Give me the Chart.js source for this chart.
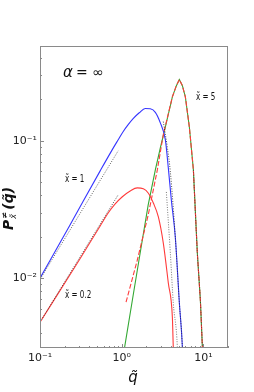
<!DOCTYPE html>
<html>
<head>
<meta charset="utf-8">
<script src="https://cdn.jsdelivr.net/npm/chart.js@4/dist/chart.umd.min.js"></script>
<style>
  body { margin: 0; background: #fff; }
  canvas { display: block; }
</style>
</head>
<body>
<canvas id="chart" width="254" height="392"></canvas>
<script>
// x̃ = 1 (blue)
const qBlue = [0.1, 0.233, 0.545, 0.764, 0.906, 1.04, 1.20, 1.38, 1.64, 1.94, 2.24, 2.58, 2.97, 3.42, 3.72, 4.05, 4.53, 5.08, 5.53, 5.65];
const pBlue = [0.0100, 0.0244, 0.0604, 0.0859, 0.1017, 0.1164, 0.131, 0.145, 0.160, 0.172, 0.171, 0.161, 0.135, 0.102, 0.0635, 0.0371, 0.0199, 0.00658, 0.00313, 0.0021];

// x̃ = 0.2 (red)
const qRed = [0.1, 0.301, 0.545, 0.683, 0.832, 1.01, 1.27, 1.55, 1.84, 2.11, 2.44, 2.81, 3.23, 3.72, 4.17, 4.28, 4.39];
const pRed = [0.00478, 0.0135, 0.0240, 0.0298, 0.0347, 0.0390, 0.0431, 0.0454, 0.0447, 0.0417, 0.0352, 0.0279, 0.0180, 0.00921, 0.00519, 0.00313, 0.0023];

// x̃ = 5 (green)
const qGreen = [1.07, 1.35, 1.69, 2.11, 2.58, 2.97, 3.42, 4.17, 4.67, 5.08, 5.53, 6.01, 6.73, 7.54, 8.43, 9.18, 9.72, 9.96];
const pGreen = [0.00298, 0.0069, 0.0155, 0.0341, 0.0614, 0.0889, 0.126, 0.209, 0.252, 0.279, 0.252, 0.209, 0.126, 0.0614, 0.0152, 0.0069, 0.00313, 0.0021];

// x̃ = 5 (red dashed)
const qRed5 = [1.13, 1.55, 2.11, 2.73, 3.23, 4.17, 4.67, 5.08, 5.53, 6.01, 6.73, 7.54, 8.43, 9.18, 9.72, 9.96];
const pRed5 = [0.00668, 0.0135, 0.0288, 0.0614, 0.111, 0.209, 0.252, 0.279, 0.252, 0.209, 0.126, 0.0614, 0.0152, 0.0069, 0.00313, 0.0021];

// asymptotes (dotted)
const qAsym1 = [0.1, 0.905];
const pAsym1 = [0.0098, 0.0845];
const qAsym02 = [0.1, 0.905];
const pAsym02 = [0.00478, 0.0404];
const qTailA = [3.23, 3.61, 3.94, 4.53, 5.08, 5.53, 5.65];
const pTailA = [0.138, 0.0904, 0.0594, 0.0199, 0.00658, 0.00313, 0.0021];
const qTailB = [3.52, 3.94, 4.28, 4.80, 4.90];
const pTailB = [0.0424, 0.0152, 0.00658, 0.00313, 0.0021];
const qTail5 = [7.54, 8.43, 9.18, 9.72, 9.96];
const pTail5 = [0.0614, 0.0152, 0.0069, 0.00313, 0.0021];

const xTickValues = [0.1, 1, 10];
const xTickLabels = ["10⁻¹", "10⁰", "10¹"];
const yTickValues = [0.01, 0.1];
const yTickLabels = ["10⁻²", "10⁻¹"];

const pts = (qs, ps) => qs.map((q, i) => ({ x: q, y: ps[i] }));

const line = (qs, ps, color, extra) => Object.assign({
    data: pts(qs, ps),
    borderColor: color,
    borderWidth: 1.1,
    pointRadius: 0,
    showLine: true,
    cubicInterpolationMode: "monotone",
    fill: false,
}, extra || {});

const dotted = { borderDash: [1, 1.5], borderWidth: 1 };
const sharp = { cubicInterpolationMode: "default", tension: 0 };

const minorTicks = (min, max) => {
    const out = [];
    for (let e = -3; e <= 2; e++) {
        for (let m = 1; m <= 9; m++) {
            const v = m * Math.pow(10, e);
            if (v >= min && v <= max) out.push({ v: v, major: m === 1 });
        }
    }
    return out;
};

const framePlugin = {
    id: "frame",
    afterDraw(chart) {
        const ctx = chart.ctx;
        const a = chart.chartArea;
        const xs = chart.scales.x, ys = chart.scales.y;
        ctx.save();
        ctx.strokeStyle = "#8a8a8a";
        ctx.lineWidth = 1;
        ctx.strokeRect(a.left + 0.5, a.top + 0.5, a.right - a.left - 1, a.bottom - a.top - 1);
        ctx.beginPath();
        minorTicks(xs.min, xs.max).forEach(t => {
            const px = Math.round(xs.getPixelForValue(t.v)) + 0.5;
            ctx.moveTo(px, a.bottom);
            ctx.lineTo(px, a.bottom - (t.major ? 4 : 2));
        });
        minorTicks(ys.min, ys.max).forEach(t => {
            const py = Math.round(ys.getPixelForValue(t.v)) + 0.5;
            ctx.moveTo(a.left, py);
            ctx.lineTo(a.left + (t.major ? 4 : 2), py);
        });
        ctx.stroke();

        ctx.fillStyle = "#111";
        ctx.textBaseline = "middle";
        // alpha label
        ctx.font = "italic 15px 'DejaVu Sans'";
        ctx.fillText("α", a.left + 23, a.top + 27);
        ctx.font = "14px 'DejaVu Sans'";
        ctx.fillText("= ∞", a.left + 36, a.top + 27);

        // curve labels, narrow
        const small = (txt, x, y) => {
            ctx.save();
            ctx.translate(x, y);
            ctx.scale(0.72, 1);
            ctx.font = "10px 'DejaVu Sans'";
            ctx.fillText(txt, 0, 0);
            ctx.restore();
        };
        small("x̃ = 5", 196, 97);
        small("x̃ = 1", 65, 179);
        small("x̃ = 0.2", 65, 295);

        // x title
        ctx.textAlign = "center";
        ctx.font = "italic 15px 'DejaVu Sans'";
        ctx.fillText("q̃", 133, 378);

        // y title
        ctx.save();
        ctx.translate(9, 203);
        ctx.rotate(-Math.PI / 2);
        ctx.textAlign = "left";
        ctx.font = "bold italic 14px 'DejaVu Sans'";
        let x0 = -27;
        ctx.fillText("P", x0, 0);
        x0 += ctx.measureText("P").width + 1;
        ctx.font = "bold 8px 'DejaVu Sans'";
        ctx.fillText("≠", x0, -4);
        ctx.font = "italic 8px 'DejaVu Sans'";
        ctx.fillText("x̃", x0, 5);
        x0 += 9;
        ctx.font = "bold italic 14px 'DejaVu Sans'";
        ctx.fillText("(q̃)", x0, 0);
        ctx.restore();
        ctx.restore();
    },
};

const config = {
    type: "scatter",
    data: {
        datasets: [
            line(qAsym1, pAsym1, "rgba(60,60,60,0.8)", dotted),
            line(qAsym02, pAsym02, "rgba(40,40,40,0.8)", dotted),
            line(qTailA, pTailA, "rgba(40,40,40,0.8)", dotted),
            line(qTailB, pTailB, "rgba(90,90,90,0.8)", dotted),
            line(qTail5, pTail5, "rgba(40,40,40,0.6)", dotted),
            line(qRed5, pRed5, "#ff3b3b", Object.assign({ borderDash: [5, 2] }, sharp)),
            line(qRed, pRed, "#ff3b3b"),
            line(qBlue, pBlue, "#3535ff"),
            line(qGreen, pGreen, "#33a833", sharp),
        ],
    },
    options: {
        responsive: false,
        animation: false,
        layout: { padding: { left: 0, right: 26, top: 46, bottom: 0 } },
        plugins: { legend: { display: false }, tooltip: { enabled: false } },
        scales: {
            x: {
                type: "logarithmic",
                min: 0.1,
                max: 20,
                grid: { display: false, drawTicks: false },
                border: { display: false },
                afterBuildTicks: (s) => { s.ticks = xTickValues.map(v => ({ value: v })); },
                afterFit: (s) => { s.height = 44; },
                ticks: {
                    autoSkip: false,
                    maxRotation: 0,
                    padding: 4,
                    color: "#222",
                    font: { family: "DejaVu Sans", size: 11 },
                    callback: (v) => xTickLabels[xTickValues.indexOf(v)],
                },
            },
            y: {
                type: "logarithmic",
                min: 0.0031,
                max: 0.49,
                grid: { display: false, drawTicks: false },
                border: { display: false },
                afterBuildTicks: (s) => { s.ticks = yTickValues.map(v => ({ value: v })); },
                afterFit: (s) => { s.width = 40; },
                ticks: {
                    autoSkip: false,
                    padding: 3,
                    color: "#222",
                    font: { family: "DejaVu Sans", size: 11 },
                    callback: (v) => yTickLabels[yTickValues.indexOf(v)],
                },
            },
        },
    },
    plugins: [framePlugin],
};

const myChart = new Chart(document.getElementById("chart"), config);
</script>
</body>
</html>
